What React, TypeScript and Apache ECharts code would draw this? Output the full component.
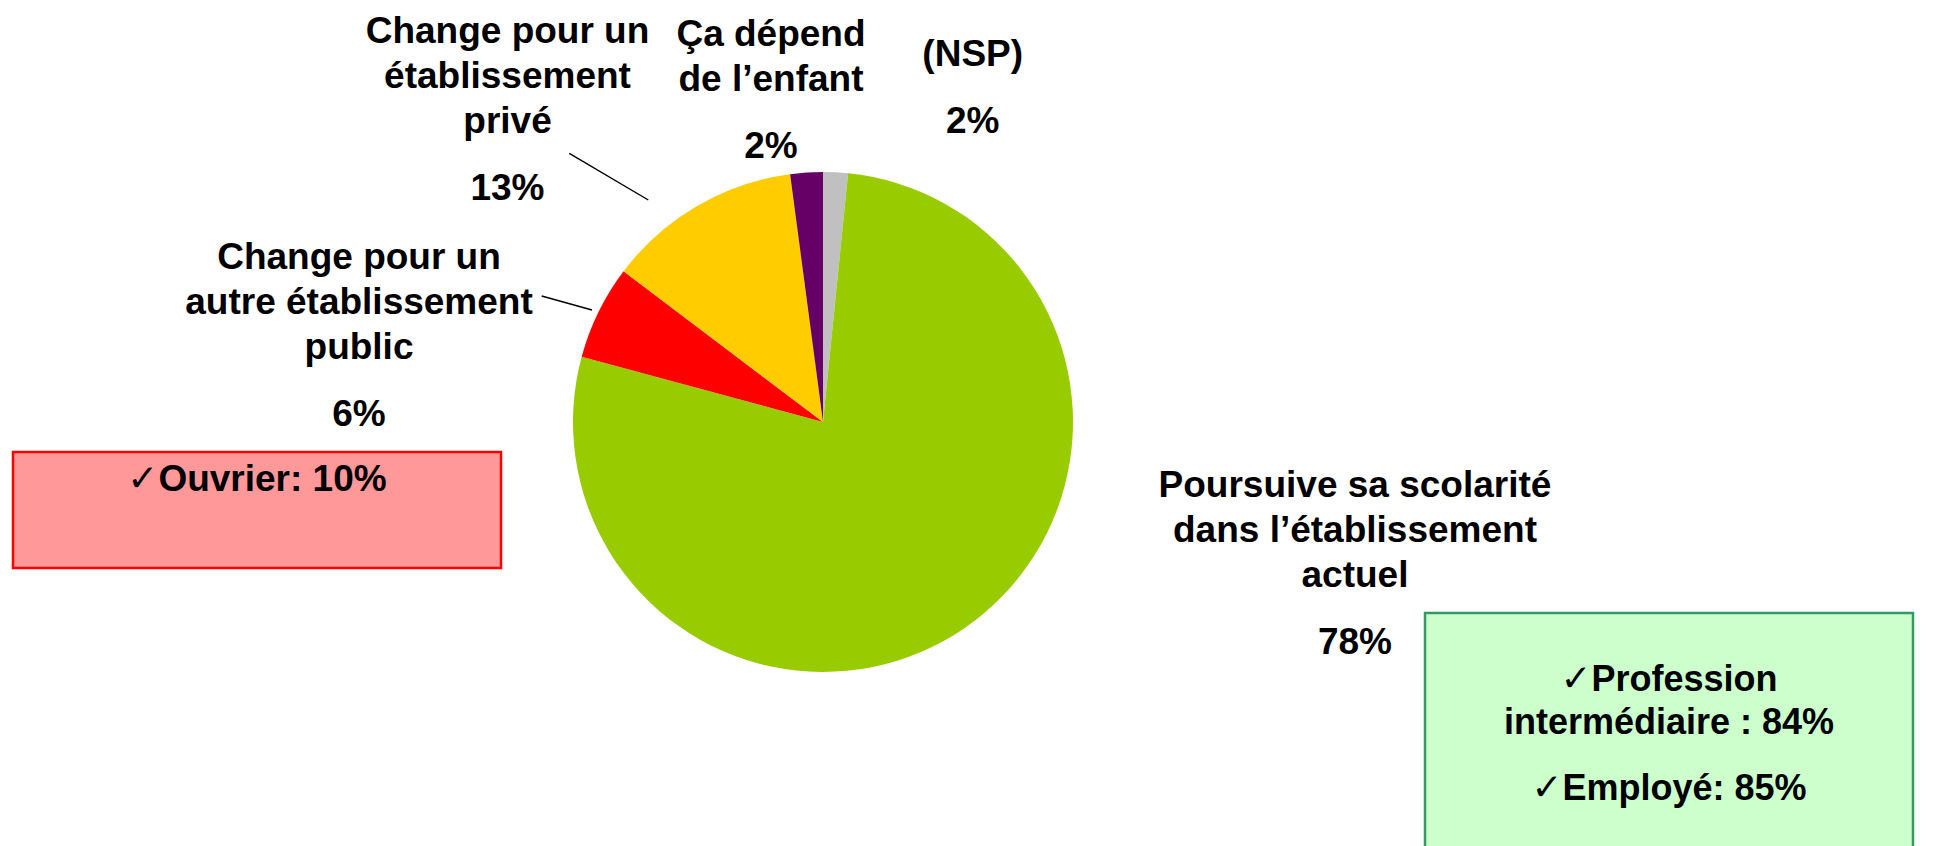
import React, { useEffect, useRef } from "react";
import * as echarts from "echarts";

// ---- data ----
const categories = [
  "(NSP)",
  "Poursuive sa scolarité\ndans l’établissement\nactuel",
  "Change pour un\nautre établissement\npublic",
  "Change pour un\nétablissement\nprivé",
  "Ça dépend\nde l’enfant",
];
const values = [1.6, 77.6, 6.1, 12.6, 2.1];
const colors = ["#C0C0C0", "#99CC00", "#FF0000", "#FFCC00", "#660066"];

const redNotes = ["Ouvrier: 10%"];
const greenNotes = [["Profession", "intermédiaire : 84%"], ["Employé: 85%"]];

// ---- layout (not data) ----
const CENTER: [number, number] = [823, 422];
const RADIUS = 250;
const LABEL_POS: [number, number][] = [
  [972.7, 30.5],
  [1355, 461.5],
  [359, 234],
  [507.5, 8],
  [771, 10.5],
];
// leader lines: start relative to label anchor, end relative to slice edge mid point
const LEADERS: Record<number, { start: [number, number]; end: [number, number] }> = {
  2: { start: [182.7, 62], end: [-6.5, -2] },
  3: { start: [61.8, 145.3], end: [-48.8, -6] },
};
const GREEN_YS = [[678, 721], [787]];

const FONT = "'Liberation Sans', Arial, sans-serif";
const FS = 37;

function edgePoint(idx: number): [number, number] {
  const total = values.reduce((a, b) => a + b, 0);
  let before = 0;
  for (let i = 0; i < idx; i++) before += values[i];
  const midFrac = (before + values[idx] / 2) / total;
  const ang = midFrac * Math.PI * 2; // clockwise from top
  return [CENTER[0] + RADIUS * Math.sin(ang), CENTER[1] - RADIUS * Math.cos(ang)];
}

const checkStyle = { fontFamily: "'DejaVu Sans', sans-serif", fontSize: 37, fill: "#000", fontWeight: "normal" };

export default function App() {
  const ref = useRef<HTMLDivElement>(null);
  useEffect(() => {
    if (!ref.current) return;
    const chart = echarts.init(ref.current, undefined, { renderer: "svg" });

    const data = categories.map((name, i) => ({
      name,
      value: values[i],
      itemStyle: { color: colors[i] },
      labelLine: { show: LEADERS[i] != null },
    }));

    const greenGraphics: any[] = [];
    greenNotes.forEach((para, pi) => {
      para.forEach((line, li) => {
        const txt = li === 0 ? `{c|✓}{t|${line}}` : `{t|${line}}`;
        greenGraphics.push({
          type: "text",
          x: 1669,
          y: GREEN_YS[pi][li],
          style: {
            text: txt,
            align: "center",
            verticalAlign: "middle",
            rich: {
              c: checkStyle,
              t: { fontFamily: FONT, fontSize: 36, fontWeight: "bold", fill: "#000" },
            },
          },
        });
      });
    });

    chart.setOption({
      animation: false,
      backgroundColor: "#ffffff",
      graphic: [
        {
          type: "rect",
          shape: { x: 13, y: 452, width: 488, height: 116 },
          style: { fill: "#FF9999", stroke: "#FF0000", lineWidth: 2.5 },
        },
        {
          type: "text",
          x: 257,
          y: 478.9,
          style: {
            text: `{c|✓}{t|${redNotes[0]}}`,
            align: "center",
            verticalAlign: "middle",
            rich: {
              c: checkStyle,
              t: { fontFamily: FONT, fontSize: FS, fontWeight: "bold", fill: "#000" },
            },
          },
        },
        {
          type: "rect",
          shape: { x: 1425, y: 613, width: 488, height: 300 },
          style: { fill: "#CCFFCC", stroke: "#339966", lineWidth: 2.5 },
        },
        ...greenGraphics,
      ],
      series: [
        {
          type: "pie",
          center: CENTER,
          radius: RADIUS,
          startAngle: 90,
          clockwise: true,
          avoidLabelOverlap: false,
          itemStyle: { borderWidth: 0 },
          label: {
            show: true,
            position: "outside",
            color: "#000",
            fontFamily: FONT,
            fontWeight: "bold",
            fontSize: FS,
            align: "center",
            formatter: (p: any) => {
              const lines = String(p.name)
                .split("\n")
                .map((l: string) => `{n|${l}}`)
                .join("\n");
              return `${lines}\n{p|${Math.round(p.value)}%}`;
            },
            rich: {
              n: { fontFamily: FONT, fontWeight: "bold", fontSize: FS, lineHeight: 45, color: "#000" },
              p: { fontFamily: FONT, fontWeight: "bold", fontSize: FS, lineHeight: 89, color: "#000" },
            },
          },
          labelLine: {
            show: true,
            lineStyle: { color: "#000", width: 1.4 },
          },
          emphasis: { disabled: true },
          labelLayout: (params: any) => {
            const i = params.dataIndex;
            const [x, y] = LABEL_POS[i];
            const res: any = { x, y, align: "center", verticalAlign: "top" };
            const ld = LEADERS[i];
            if (ld) {
              const e = edgePoint(i);
              res.labelLinePoints = [
                [x + ld.start[0], y + ld.start[1]],
                [e[0] + ld.end[0], e[1] + ld.end[1]],
                [e[0] + ld.end[0], e[1] + ld.end[1]],
              ];
            }
            return res;
          },
          data,
        },
      ],
    });
    return () => chart.dispose();
  }, []);
  return (
    <div
      ref={ref}
      style={{ position: "fixed", left: 0, top: 0, width: 1935, height: 846, background: "#fff" }}
    />
  );
}
